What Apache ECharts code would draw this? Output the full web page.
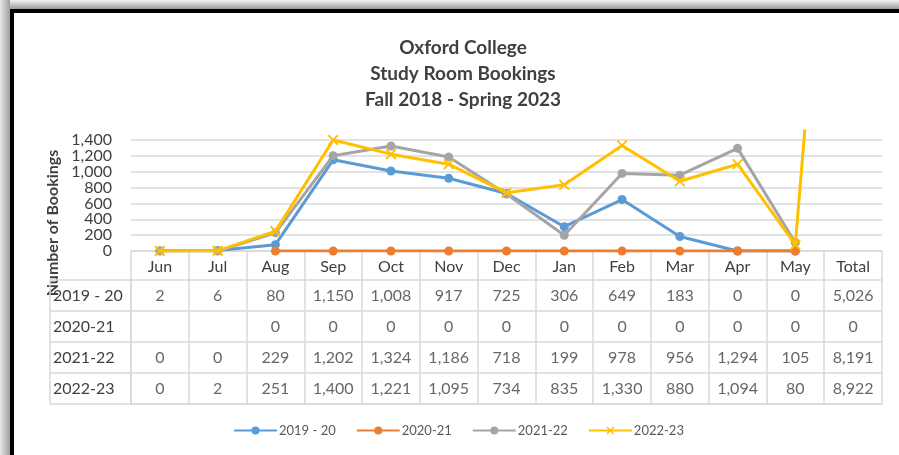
<!DOCTYPE html>
<html><head><meta charset="utf-8">
<script src="https://cdn.jsdelivr.net/npm/echarts@6/dist/echarts.min.js"></script>
<style>html,body{margin:0;padding:0;background:#fff}#c{width:899px;height:455px}</style>
</head><body><div id="c"></div>
<script>
const months = ['Jun','Jul','Aug','Sep','Oct','Nov','Dec','Jan','Feb','Mar','Apr','May'];
const columns = months.concat(['Total']);
const seasons = ['2019 - 20','2020-21','2021-22','2022-23'];
const s2019 = [2,6,80,1150,1008,917,725,306,649,183,0,0];
const s2020 = [null,null,0,0,0,0,0,0,0,0,0,0];
const s2021 = [0,0,229,1202,1324,1186,718,199,978,956,1294,105];
const s2022 = [0,2,251,1400,1221,1095,734,835,1330,880,1094,80];
const totals = [5026,0,8191,8922];
const yInterval = 200;
const colors = ['#5b9bd5','#ed7d31','#a5a5a5','#ffc000'];

const FONT = 'Lato';
const TXT = '#404040';
const GRIDC = '#d9d9d9';
const rows = [s2019, s2020, s2021, s2022];

const cellData = [];
rows.forEach((arr, r) => {
  columns.forEach((c, ci) => {
    const v = ci < months.length ? arr[ci] : totals[r];
    if (v !== null && v !== undefined) cellData.push([c, seasons[r], v]);
  });
});

const xMark = 'path://M0,1.2L1.2,0L5,3.8L8.8,0L10,1.2L6.2,5L10,8.8L8.8,10L5,6.2L1.2,10L0,8.8L3.8,5Z';

const lineSeries = rows.map((arr, i) => ({
  name: seasons[i],
  type: 'line',
  xAxisIndex: 0, yAxisIndex: 0,
  data: i === 3 ? arr.concat([totals[3]]) : arr.slice(),
  symbol: i === 3 ? xMark : 'circle',
  symbolSize: i === 3 ? 11 : 9,
  showSymbol: true,
  lineStyle: { width: 3, color: colors[i] },
  itemStyle: { color: colors[i] },
  clip: true,
  animation: false,
  z: 3 + i
}));

const chart = echarts.init(document.getElementById('c'), null, { renderer: 'canvas' });
chart.setOption({
  animation: false,
  textStyle: { fontFamily: FONT },
  title: {
    text: 'Oxford College\nStudy Room Bookings\nFall 2018 - Spring 2023',
    left: 458, top: 30, textAlign: 'center',
    textStyle: { fontFamily: FONT, fontSize: 19, fontWeight: 'bold', color: TXT, lineHeight: 26 }
  },
  legend: {
    data: seasons,
    left: 233, top: 424,
    itemWidth: 43, itemHeight: 10, itemGap: 20,
    padding: 0,
    textStyle: { fontFamily: FONT, fontSize: 13, color: '#595959', padding: [0, 0, 0, -3] }
  },
  graphic: [
    { type: 'rect', shape: { x: 0, y: 0, width: 899, height: 9 }, style: { fill: new echarts.graphic.LinearGradient(0,0,0,1,[{offset:0,color:'#f2f2f2'},{offset:1,color:'#9c9c9c'}]) }, silent: true },
    { type: 'rect', shape: { x: 0, y: 0, width: 10, height: 455 }, style: { fill: new echarts.graphic.LinearGradient(0,0,1,0,[{offset:0,color:'#e6e6e6'},{offset:1,color:'#a0a0a0'}]) }, silent: true },
    { type: 'rect', shape: { x: 10, y: 9, width: 889, height: 4 }, style: { fill: '#000' }, silent: true },
    { type: 'rect', shape: { x: 10, y: 9, width: 4, height: 446 }, style: { fill: '#000' }, silent: true }
  ],
  grid: [
    { left: 131, right: 17, top: 131, bottom: 204 },
    { left: 131, right: 17, top: 280, bottom: 51 }
  ],
  xAxis: [
    {
      type: 'category', gridIndex: 0, data: columns, boundaryGap: true,
      axisLine: { show: true, lineStyle: { color: GRIDC, width: 1.5 } },
      axisTick: { show: true, length: 29, interval: 0, alignWithLabel: false, lineStyle: { color: GRIDC, width: 1.5 } },
      axisLabel: { interval: 0, margin: 8, fontFamily: FONT, fontSize: 16, color: TXT },
      splitLine: { show: false }
    },
    {
      type: 'category', gridIndex: 1, data: columns, boundaryGap: true, position: 'bottom',
      axisLine: { show: true, lineStyle: { color: GRIDC, width: 1.5 } },
      axisTick: { show: false },
      axisLabel: { show: false },
      splitLine: { show: true, interval: 0, lineStyle: { color: GRIDC, width: 1.5 } }
    }
  ],
  yAxis: [
    {
      type: 'value', gridIndex: 0, min: 0, max: 1513, interval: yInterval,
      name: 'Number of Bookings', nameLocation: 'middle', nameGap: 69, nameRotate: 90,
      nameTextStyle: { fontFamily: FONT, fontSize: 16, fontWeight: 'bold', color: TXT, padding: [0, 64, 0, 0] },
      axisLine: { show: false }, axisTick: { show: false },
      axisLabel: { margin: 19, fontFamily: FONT, fontSize: 16, color: TXT, showMaxLabel: false,
        formatter: v => v > 1400 ? '' : v.toLocaleString('en-US') },
      splitLine: { show: true, showMaxLine: false, lineStyle: { color: GRIDC, width: 1.5 } }
    },
    {
      type: 'category', gridIndex: 1, data: seasons, inverse: true, position: 'left',
      axisLine: { show: true, lineStyle: { color: GRIDC, width: 1.5 } },
      axisTick: { show: true, length: 81, interval: 0, alignWithLabel: false, lineStyle: { color: GRIDC, width: 1.5 } },
      axisLabel: { interval: 0, align: 'left', margin: 78, fontFamily: FONT, fontSize: 16, color: TXT },
      splitLine: { show: true, interval: 0, lineStyle: { color: GRIDC, width: 1.5 } }
    },
    {
      type: 'category', gridIndex: 1, data: seasons, inverse: true, position: 'left', offset: 81,
      axisLine: { show: true, lineStyle: { color: GRIDC, width: 1.5 } },
      axisTick: { show: false }, axisLabel: { show: false }, splitLine: { show: false }
    }
  ],
  series: lineSeries.concat([{
    name: 'cells', type: 'scatter', xAxisIndex: 1, yAxisIndex: 1,
    data: cellData, symbolSize: 1, itemStyle: { color: 'rgba(0,0,0,0)' }, silent: true,
    label: { show: true, position: 'inside', fontFamily: FONT, fontSize: 16, color: TXT,
      formatter: p => p.value[2].toLocaleString('en-US') }
  }])
});
</script></body></html>
